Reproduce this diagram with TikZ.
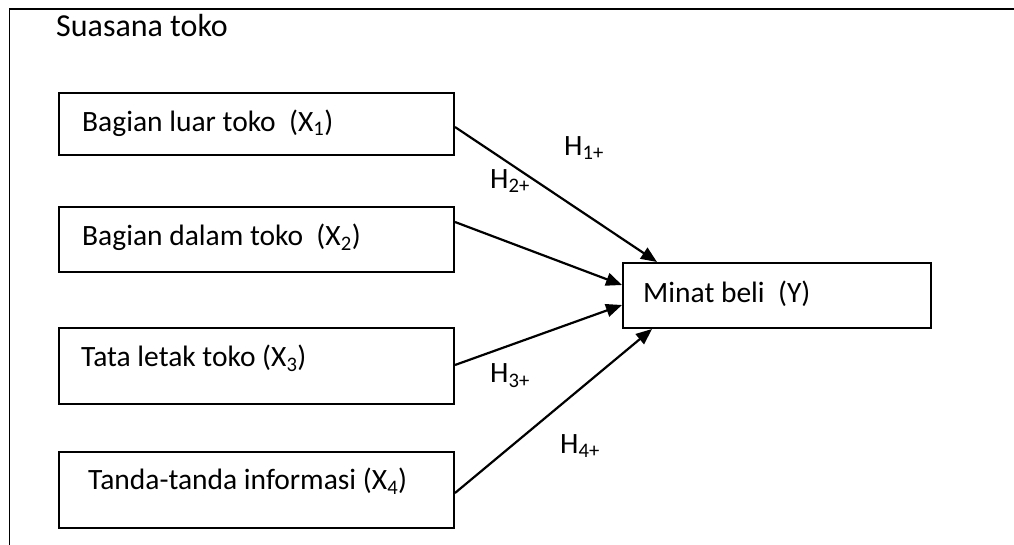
\documentclass[tikz,border=0pt]{standalone}
\usepackage{fontspec}
\setmainfont{Carlito}
\usetikzlibrary{arrows.meta,calc}
\begin{document}
\begin{tikzpicture}[x=1pt,y=-1pt,
  every node/.style={font=\fontsize{29.5}{35}\selectfont},
  varbox/.style={draw,line width=2pt,rectangle,inner sep=0pt,anchor=north west},
  lbl/.style={anchor=west,inner sep=0pt},
  hyp/.style={inner sep=0pt},
  link/.style={line width=2.2pt,-{Triangle[length=16pt,width=13pt]}}]
\useasboundingbox (0,0) rectangle (1014,545);
% open outer frame (right and bottom run past the page edge)
\begin{scope}
\clip (0,0) rectangle (1014,545);
\draw[line width=1.8pt] (9.5,9) rectangle (1030,560);
\end{scope}
\node[lbl,font=\fontsize{32}{38}\selectfont] (title) at (56,26) {Suasana toko};
% independent variables
\node[varbox,minimum width=395pt,minimum height=62pt] (x1) at (58,92) {};
\node[varbox,minimum width=395pt,minimum height=65pt] (x2) at (58,206) {};
\node[varbox,minimum width=395pt,minimum height=76pt] (x3) at (58,327) {};
\node[varbox,minimum width=395pt,minimum height=76pt] (x4) at (58,451) {};
\node[lbl] (x1t) at (82,123) {Bagian luar toko\ \ (X\textsubscript{1})};
\node[lbl] (x2t) at (82,237) {Bagian dalam toko\ \ (X\textsubscript{2})};
\node[lbl] (x3t) at (81,358) {Tata letak toko (X\textsubscript{3})};
\node[lbl] (x4t) at (88,481) {Tanda-tanda informasi (X\textsubscript{4})};
% dependent variable
\node[varbox,minimum width=308pt,minimum height=65pt] (y) at (622,262) {};
\node[lbl] (yt) at (643,294) {Minat beli\ \ (Y)};
% hypothesised paths
\draw[link] ($(x1.north east)+(0,35)$) -- ($(y.north west)+(35,0)$);
\draw[link] ($(x2.north east)+(0,16)$) -- ($(y.north west)+(0,23)$);
\draw[link] ($(x3.north east)+(0,38)$) -- ($(y.north west)+(0,43)$);
\draw[link] ($(x4.north east)+(0,42)$) -- ($(y.south west)+(30,0)$);
\node[hyp] (h1) at (584,148) {H\textsubscript{1+}};
\node[hyp] (h2) at (510,181) {H\textsubscript{2+}};
\node[hyp] (h3) at (510,376) {H\textsubscript{3+}};
\node[hyp] (h4) at (580,446) {H\textsubscript{4+}};
\end{tikzpicture}
\end{document}
